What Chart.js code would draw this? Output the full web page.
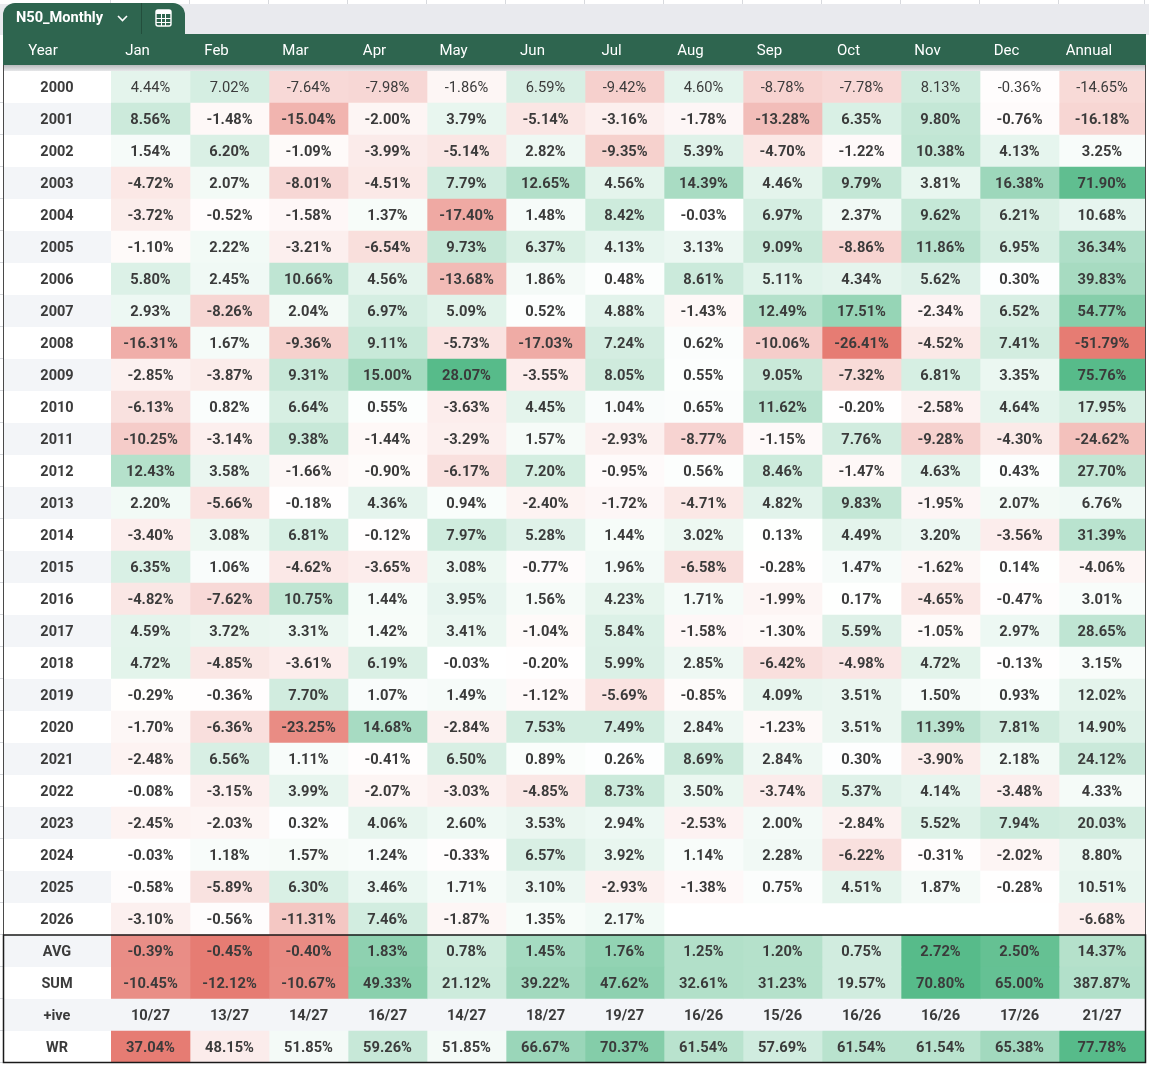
<!DOCTYPE html>
<html><head><meta charset="utf-8">
<script src="https://cdn.jsdelivr.net/npm/chart.js@4.4.1/dist/chart.umd.min.js"></script>
<style>
html,body{margin:0;padding:0;background:#fff;}
#wrap{position:relative;width:1149px;height:1066px;}
</style>
</head><body>
<div id="wrap"><canvas id="c"></canvas></div>
<script>
// ---------- DATA ----------
const sheetName = 'N50_Monthly';
const months = ['Jan','Feb','Mar','Apr','May','Jun','Jul','Aug','Sep','Oct','Nov','Dec'];
const headerLabels = ['Year', ...months, 'Annual'];
const years = ['2000','2001','2002','2003','2004','2005','2006','2007','2008','2009','2010','2011','2012','2013','2014','2015','2016','2017','2018','2019','2020','2021','2022','2023','2024','2025','2026'];
const statLabels = ['AVG','SUM','+ive','WR'];

const y2000 = [4.44, 7.02, -7.64, -7.98, -1.86, 6.59, -9.42, 4.60, -8.78, -7.78, 8.13, -0.36];
const y2001 = [8.56, -1.48, -15.04, -2.00, 3.79, -5.14, -3.16, -1.78, -13.28, 6.35, 9.80, -0.76];
const y2002 = [1.54, 6.20, -1.09, -3.99, -5.14, 2.82, -9.35, 5.39, -4.70, -1.22, 10.38, 4.13];
const y2003 = [-4.72, 2.07, -8.01, -4.51, 7.79, 12.65, 4.56, 14.39, 4.46, 9.79, 3.81, 16.38];
const y2004 = [-3.72, -0.52, -1.58, 1.37, -17.40, 1.48, 8.42, -0.03, 6.97, 2.37, 9.62, 6.21];
const y2005 = [-1.10, 2.22, -3.21, -6.54, 9.73, 6.37, 4.13, 3.13, 9.09, -8.86, 11.86, 6.95];
const y2006 = [5.80, 2.45, 10.66, 4.56, -13.68, 1.86, 0.48, 8.61, 5.11, 4.34, 5.62, 0.30];
const y2007 = [2.93, -8.26, 2.04, 6.97, 5.09, 0.52, 4.88, -1.43, 12.49, 17.51, -2.34, 6.52];
const y2008 = [-16.31, 1.67, -9.36, 9.11, -5.73, -17.03, 7.24, 0.62, -10.06, -26.41, -4.52, 7.41];
const y2009 = [-2.85, -3.87, 9.31, 15.00, 28.07, -3.55, 8.05, 0.55, 9.05, -7.32, 6.81, 3.35];
const y2010 = [-6.13, 0.82, 6.64, 0.55, -3.63, 4.45, 1.04, 0.65, 11.62, -0.20, -2.58, 4.64];
const y2011 = [-10.25, -3.14, 9.38, -1.44, -3.29, 1.57, -2.93, -8.77, -1.15, 7.76, -9.28, -4.30];
const y2012 = [12.43, 3.58, -1.66, -0.90, -6.17, 7.20, -0.95, 0.56, 8.46, -1.47, 4.63, 0.43];
const y2013 = [2.20, -5.66, -0.18, 4.36, 0.94, -2.40, -1.72, -4.71, 4.82, 9.83, -1.95, 2.07];
const y2014 = [-3.40, 3.08, 6.81, -0.12, 7.97, 5.28, 1.44, 3.02, 0.13, 4.49, 3.20, -3.56];
const y2015 = [6.35, 1.06, -4.62, -3.65, 3.08, -0.77, 1.96, -6.58, -0.28, 1.47, -1.62, 0.14];
const y2016 = [-4.82, -7.62, 10.75, 1.44, 3.95, 1.56, 4.23, 1.71, -1.99, 0.17, -4.65, -0.47];
const y2017 = [4.59, 3.72, 3.31, 1.42, 3.41, -1.04, 5.84, -1.58, -1.30, 5.59, -1.05, 2.97];
const y2018 = [4.72, -4.85, -3.61, 6.19, -0.03, -0.20, 5.99, 2.85, -6.42, -4.98, 4.72, -0.13];
const y2019 = [-0.29, -0.36, 7.70, 1.07, 1.49, -1.12, -5.69, -0.85, 4.09, 3.51, 1.50, 0.93];
const y2020 = [-1.70, -6.36, -23.25, 14.68, -2.84, 7.53, 7.49, 2.84, -1.23, 3.51, 11.39, 7.81];
const y2021 = [-2.48, 6.56, 1.11, -0.41, 6.50, 0.89, 0.26, 8.69, 2.84, 0.30, -3.90, 2.18];
const y2022 = [-0.08, -3.15, 3.99, -2.07, -3.03, -4.85, 8.73, 3.50, -3.74, 5.37, 4.14, -3.48];
const y2023 = [-2.45, -2.03, 0.32, 4.06, 2.60, 3.53, 2.94, -2.53, 2.00, -2.84, 5.52, 7.94];
const y2024 = [-0.03, 1.18, 1.57, 1.24, -0.33, 6.57, 3.92, 1.14, 2.28, -6.22, -0.31, -2.02];
const y2025 = [-0.58, -5.89, 6.30, 3.46, 1.71, 3.10, -2.93, -1.38, 0.75, 4.51, 1.87, -0.28];
const y2026 = [-3.10, -0.56, -11.31, 7.46, -1.87, 1.35, 2.17, null, null, null, null, null];

const annual = [-14.65, -16.18, 3.25, 71.90, 10.68, 36.34, 39.83, 54.77, -51.79, 75.76, 17.95, -24.62, 27.70, 6.76, 31.39, -4.06, 3.01, 28.65, 3.15, 12.02, 14.90, 24.12, 4.33, 20.03, 8.80, 10.51, -6.68];

const avgRow = [-0.39, -0.45, -0.40, 1.83, 0.78, 1.45, 1.76, 1.25, 1.20, 0.75, 2.72, 2.50];
const sumRow = [-10.45, -12.12, -10.67, 49.33, 21.12, 39.22, 47.62, 32.61, 31.23, 19.57, 70.80, 65.00];
const positiveRow = ['10/27','13/27','14/27','16/27','14/27','18/27','19/27','16/26','15/26','16/26','16/26','17/26'];
const winRateRow = [37.04, 48.15, 51.85, 59.26, 51.85, 66.67, 70.37, 61.54, 57.69, 61.54, 61.54, 65.38];
const avgAnnual = 14.37;
const sumAnnual = 387.87;
const positiveAnnual = '21/27';
const winRateAnnual = 77.78;

// ---------- derived tables ----------
const yearRows = [y2000,y2001,y2002,y2003,y2004,y2005,y2006,y2007,y2008,y2009,y2010,y2011,y2012,y2013,y2014,y2015,y2016,y2017,y2018,y2019,y2020,y2021,y2022,y2023,y2024,y2025,y2026];
const rowLabels = [...years, ...statLabels];
const NY = years.length;

// ---------- style ----------
const COL_PX = 79, ANNUAL_PX = 86;
const ANNUAL_W = ANNUAL_PX / COL_PX;
const GREEN = [87,187,138], RED = [230,124,115];
const HEADER_GREEN = '#2e654f';
const BAND = '#f3f5f8';
const TEXT = '#3b3b3b';

function valueAt(r, c){
  if (r < NY) return c < 12 ? yearRows[r][c] : annual[r];
  const k = r - NY;
  if (k === 0) return c < 12 ? avgRow[c] : avgAnnual;
  if (k === 1) return c < 12 ? sumRow[c] : sumAnnual;
  if (k === 2) return c < 12 ? positiveRow[c] : positiveAnnual;
  return c < 12 ? winRateRow[c] : winRateAnnual;
}
function mix(col, t){
  t = Math.max(0, Math.min(1, t));
  return 'rgb(' + col.map(v => Math.round(255 + (v - 255) * t)).join(',') + ')';
}
function scaleColor(v, min, mid, max){
  if (v >= mid) return mix(GREEN, max > mid ? (v - mid) / (max - mid) : 0);
  return mix(RED, mid > min ? (mid - v) / (mid - min) : 0);
}
const bodyVals = yearRows.flat().filter(v => v !== null);
const bodyMin = Math.min(...bodyVals), bodyMax = Math.max(...bodyVals);
const annMin = Math.min(...annual), annMax = Math.max(...annual);
const wrAll = [...winRateRow, winRateAnnual];

function cellColor(r, c){
  const v = valueAt(r, c);
  if (r < NY) return c < 12 ? scaleColor(v, bodyMin, 0, bodyMax) : scaleColor(v, annMin, 0, annMax);
  const k = r - NY;
  if (k === 0 || k === 1){
    const row = k === 0 ? avgRow : sumRow;
    const mn = Math.min(...row), mx = Math.max(...row);
    return scaleColor(c < 12 ? v : v / 12, mn, 0, mx);
  }
  if (k === 2) return BAND;
  return scaleColor(v, Math.min(...wrAll), 50, Math.max(...wrAll));
}
function cellText(r, c){
  const v = valueAt(r, c);
  if (v === null) return '';
  if (typeof v === 'string') return v;
  return v.toFixed(2) + '%';
}

const datasets = headerLabels.slice(1).map((name, c) => ({
  label: name,
  data: rowLabels.map((_, r) => valueAt(r, c) === null ? null : [c, c + (c === 12 ? ANNUAL_W : 1)]),
  backgroundColor: ctx => cellColor(ctx.dataIndex, c),
  borderWidth: 0,
  grouped: false,
  barPercentage: 1,
  categoryPercentage: 1
}));

// ---------- drawing plugin ----------
const tablePlugin = {
  id: 'tablePlugin',
  beforeDatasetsDraw(chart){
    const ctx = chart.ctx, xs = chart.scales.x, ys = chart.scales.y, ca = chart.chartArea;
    const rowH = ys.getPixelForValue(1) - ys.getPixelForValue(0);
    ctx.save();
    // top spreadsheet strip
    ctx.fillStyle = '#ffffff'; ctx.fillRect(0, 0, 1149, 4);
    ctx.strokeStyle = '#d7d9dd'; ctx.lineWidth = 1;
    for (let c = 0; c <= 13; c++){
      const x = Math.round(xs.getPixelForValue(Math.min(c, 12) + (c === 13 ? ANNUAL_W : 0))) - 0.5;
      ctx.beginPath(); ctx.moveTo(x, 0); ctx.lineTo(x, 4); ctx.stroke();
    }
    ctx.fillStyle = '#e9eaee'; ctx.fillRect(0, 4, 1149, 31);
    // row bands
    for (let r = 0; r < rowLabels.length; r++){
      const y = ys.getPixelForValue(r);
      ctx.fillStyle = r % 2 ? BAND : '#ffffff';
      ctx.fillRect(3, y - rowH/2, ca.right - 3, rowH);
      ctx.strokeStyle = '#d5d7db';
      ctx.beginPath(); ctx.moveTo(0, Math.round(y + rowH/2) - 0.5); ctx.lineTo(3, Math.round(y + rowH/2) - 0.5); ctx.stroke();
    }
    // header band
    ctx.fillStyle = HEADER_GREEN;
    ctx.fillRect(3, 34, ca.right - 2, 31);
    const g = ctx.createLinearGradient(0, 65, 0, 71);
    g.addColorStop(0, '#b9bbbd'); g.addColorStop(1, '#e6e7e9');
    ctx.fillStyle = g; ctx.fillRect(3, 65, ca.right - 2, ca.top - 65);
    // tab
    ctx.fillStyle = HEADER_GREEN;
    ctx.beginPath();
    ctx.moveTo(3, 35); ctx.lineTo(3, 15); ctx.arcTo(3, 3, 15, 3, 12);
    ctx.lineTo(173, 3); ctx.arcTo(185, 3, 185, 15, 12); ctx.lineTo(185, 35); ctx.closePath(); ctx.fill();
    ctx.fillStyle = '#ffffff';
    ctx.font = 'bold 14.6px Roboto';
    ctx.textAlign = 'left'; ctx.textBaseline = 'middle';
    ctx.fillText(sheetName, 16, 18);
    ctx.strokeStyle = '#ffffff'; ctx.lineWidth = 1.6;
    ctx.beginPath(); ctx.moveTo(118, 16); ctx.lineTo(122.5, 20.5); ctx.lineTo(127, 16); ctx.stroke();
    ctx.strokeStyle = '#234e3c'; ctx.lineWidth = 1;
    ctx.beginPath(); ctx.moveTo(141.5, 3); ctx.lineTo(141.5, 34); ctx.stroke();
    // calculator icon
    ctx.strokeStyle = '#ffffff'; ctx.lineWidth = 1.4;
    ctx.beginPath(); ctx.roundRect(156, 10, 15, 16, 2); ctx.stroke();
    ctx.fillStyle = '#ffffff'; ctx.fillRect(156, 10, 15, 4);
    ctx.lineWidth = 1;
    ctx.beginPath();
    ctx.moveTo(156, 18.5); ctx.lineTo(171, 18.5);
    ctx.moveTo(156, 22.5); ctx.lineTo(171, 22.5);
    ctx.moveTo(161.5, 14); ctx.lineTo(161.5, 26);
    ctx.moveTo(165.5, 14); ctx.lineTo(165.5, 26);
    ctx.stroke();
    // header labels
    ctx.fillStyle = '#ffffff'; ctx.font = '15px Roboto'; ctx.textAlign = 'center';
    ctx.fillText(headerLabels[0], 43, 51);
    for (let c = 0; c < 13; c++){
      const w = c === 12 ? ANNUAL_W : 1;
      ctx.fillText(headerLabels[c + 1], xs.getPixelForValue(c + w/2) - 13, 51);
    }
    ctx.restore();
  },
  afterDatasetsDraw(chart){
    const ctx = chart.ctx, xs = chart.scales.x, ys = chart.scales.y, ca = chart.chartArea;
    const rowH = ys.getPixelForValue(1) - ys.getPixelForValue(0);
    ctx.save();
    ctx.textAlign = 'center'; ctx.textBaseline = 'middle'; ctx.fillStyle = TEXT;
    for (let r = 0; r < rowLabels.length; r++){
      const y = ys.getPixelForValue(r) + 1.5;
      ctx.font = 'bold 14.5px Roboto';
      ctx.fillText(rowLabels[r], 57, y);
      ctx.font = (r === 0 ? '' : 'bold ') + '14.7px Roboto';
      for (let c = 0; c < 13; c++){
        const w = c === 12 ? ANNUAL_W : 1;
        const t = cellText(r, c);
        if (t) ctx.fillText(t, xs.getPixelForValue(c + w/2), y);
      }
    }
    // side borders
    const statTop = ys.getPixelForValue(NY) - rowH/2;
    ctx.strokeStyle = '#4a4a4a'; ctx.lineWidth = 1;
    ctx.beginPath();
    ctx.moveTo(3.5, 65); ctx.lineTo(3.5, statTop);
    ctx.moveTo(ca.right + 0.5, 65); ctx.lineTo(ca.right + 0.5, statTop);
    ctx.stroke();
    // stats box
    ctx.strokeStyle = '#1a1a1a'; ctx.lineWidth = 1.5;
    ctx.strokeRect(3.5, statTop, ca.right - 3, ca.bottom - statTop - 0.5);
    ctx.restore();
  }
};

new Chart(document.getElementById('c'), {
  type: 'bar',
  data: { labels: rowLabels, datasets },
  options: {
    indexAxis: 'y',
    responsive: true,
    maintainAspectRatio: false,
    animation: false,
    layout: { padding: { left: 111, right: 4, top: 71, bottom: 3 } },
    scales: {
      x: { type: 'linear', min: 0, max: 12 + ANNUAL_W, display: false },
      y: { type: 'category', display: false, offset: true }
    },
    plugins: { legend: { display: false }, tooltip: { enabled: false } }
  },
  plugins: [tablePlugin]
});
</script>
</body></html>
